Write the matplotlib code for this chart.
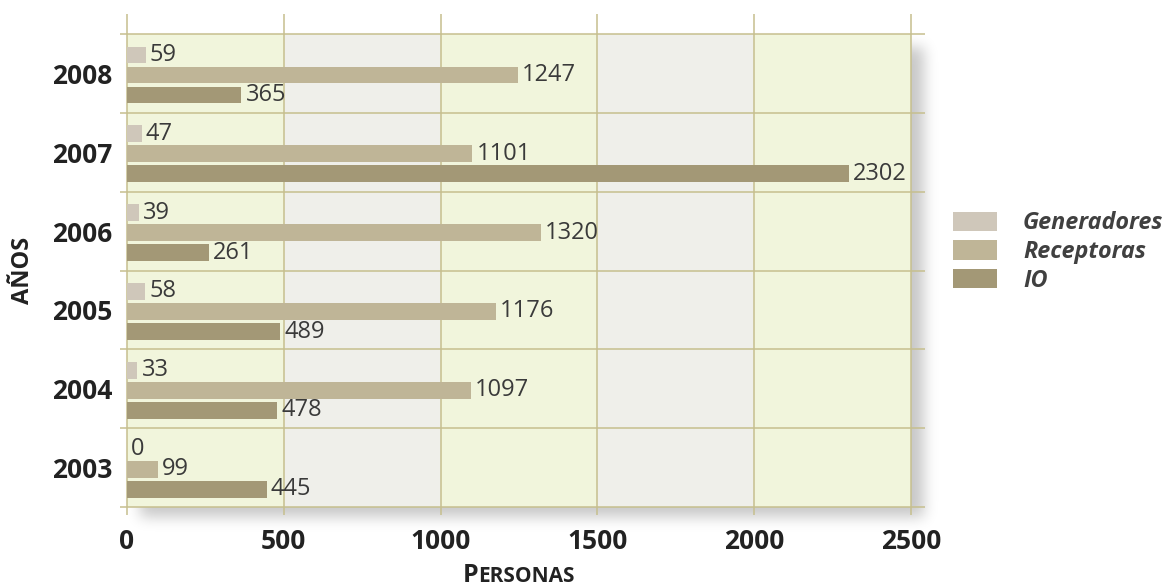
import numpy as np
import matplotlib
matplotlib.use("Agg")
import matplotlib.pyplot as plt
from matplotlib.patches import Patch
from matplotlib.font_manager import FontProperties

# ---- data ----
years = ["2003", "2004", "2005", "2006", "2007", "2008"]
series_names = ["Generadores", "Receptoras", "IO"]
generadores = [0, 33, 58, 39, 47, 59]
receptoras = [99, 1097, 1176, 1320, 1101, 1247]
io = [445, 478, 489, 261, 2302, 365]
xticks = [0, 500, 1000, 1500, 2000, 2500]

colors = ["#CFC7BA", "#BFB597", "#A39876"]
FONT = "Open Sans"
plt.rcParams["font.family"] = [FONT, "DejaVu Sans"]

W, H = 1171, 587
fig = plt.figure(figsize=(W / 100, H / 100), dpi=100)

# plot rectangle in pixels
L, R, T, B = 127, 911, 34, 507

# ---- soft shadow behind the plot area ----
bg = fig.add_axes([0, 0, 1, 1], zorder=0)
mask = np.zeros((H, W))
mask[47:517, 140:924] = 1.0
s = 7.0
k = np.arange(-21, 22)
kern = np.exp(-k ** 2 / (2 * s * s))
kern /= kern.sum()
blur = np.apply_along_axis(lambda r: np.convolve(r, kern, mode="same"), 1, mask)
blur = np.apply_along_axis(lambda c: np.convolve(c, kern, mode="same"), 0, blur)
rgba = np.zeros((H, W, 4))
rgba[..., 3] = 0.22 * blur
bg.imshow(rgba, extent=[0, W, H, 0], aspect="auto", interpolation="bilinear")
bg.set_xlim(0, W)
bg.set_ylim(H, 0)
bg.axis("off")

ax = fig.add_axes([L / W, 1 - B / H, (R - L) / W, (B - T) / H], zorder=1)
ax.patch.set_alpha(0)
ax.set_xlim(0, 2500)
ax.set_ylim(-0.5, 5.5)

# alternating bands
band_cols = ["#F1F5DC", "#EFEFEA"]
for i in range(len(xticks) - 1):
    ax.axvspan(xticks[i], xticks[i + 1], color=band_cols[i % 2], zorder=0, lw=0)

grid_c = "#C6BF8E"
ax.vlines(xticks, -8 / (B - T), 1 + 20 / (B - T), transform=ax.get_xaxis_transform(),
          colors=grid_c, lw=1.1, clip_on=False, zorder=1)
bounds = np.arange(-0.5, 6.0, 1.0)
ax.hlines(bounds, -7 / (R - L), 1 + 14 / (R - L), transform=ax.get_yaxis_transform(),
          colors=grid_c, lw=1.1, clip_on=False, zorder=1)

ypos = np.arange(len(years))
step = 0.254
bh = 0.212
data = [generadores, receptoras, io]
offsets = [step, 0.0, -step]
for vals, off, c in zip(data, offsets, colors):
    ax.barh(ypos + off - 0.02, vals, height=bh, color=c, lw=0, zorder=2)
    for y, v in zip(ypos + off - 0.02, vals):
        ax.annotate(str(v), xy=(v, y), xytext=(3, 0), textcoords="offset points",
                    ha="left", va="center", fontsize=17, color="#3a3a3a", zorder=3)

for sp in ax.spines.values():
    sp.set_visible(False)
ax.set_xticks(xticks)
ax.set_xticklabels([str(t) for t in xticks], fontsize=19, fontweight="bold", color="#222222")
ax.set_yticks(ypos)
ax.set_yticklabels(years, fontsize=19, fontweight="bold", color="#222222")
ax.tick_params(axis="both", length=0)
ax.tick_params(axis="x", pad=15)
ax.tick_params(axis="y", pad=10.5)

# axis titles
fig.text(23 / W, 1 - 270 / H, "AÑOS", rotation=90, ha="center", va="center",
         fontsize=17, fontweight="bold", color="#222222")
t1 = fig.text(0, 0, "P", fontsize=18, fontweight="bold", color="#222222", va="baseline")
t2 = fig.text(0, 0, "ERSONAS", fontsize=15, fontweight="bold", color="#222222", va="baseline")
r = fig.canvas.get_renderer()
w1 = t1.get_window_extent(r).width
w2 = t2.get_window_extent(r).width
x0 = (L + R) / 2 - (w1 + w2) / 2
yb = 1 - 582.5 / H
t1.set_position((x0 / W, yb))
t2.set_position(((x0 + w1) / W, yb))

# legend
handles = [Patch(facecolor=c, edgecolor="none") for c in colors]
ax.legend(handles, series_names, loc="center left",
          bbox_to_anchor=(953 / W, 1 - 252 / H), bbox_transform=fig.transFigure,
          frameon=False, prop=FontProperties(family=FONT, style="italic", weight="bold", size=16.8),
          labelcolor="#404040", handlelength=1.9, handleheight=0.9, handletextpad=1.1,
          labelspacing=0.2, borderaxespad=0, borderpad=0)

fig.savefig("out.png", dpi=100)
